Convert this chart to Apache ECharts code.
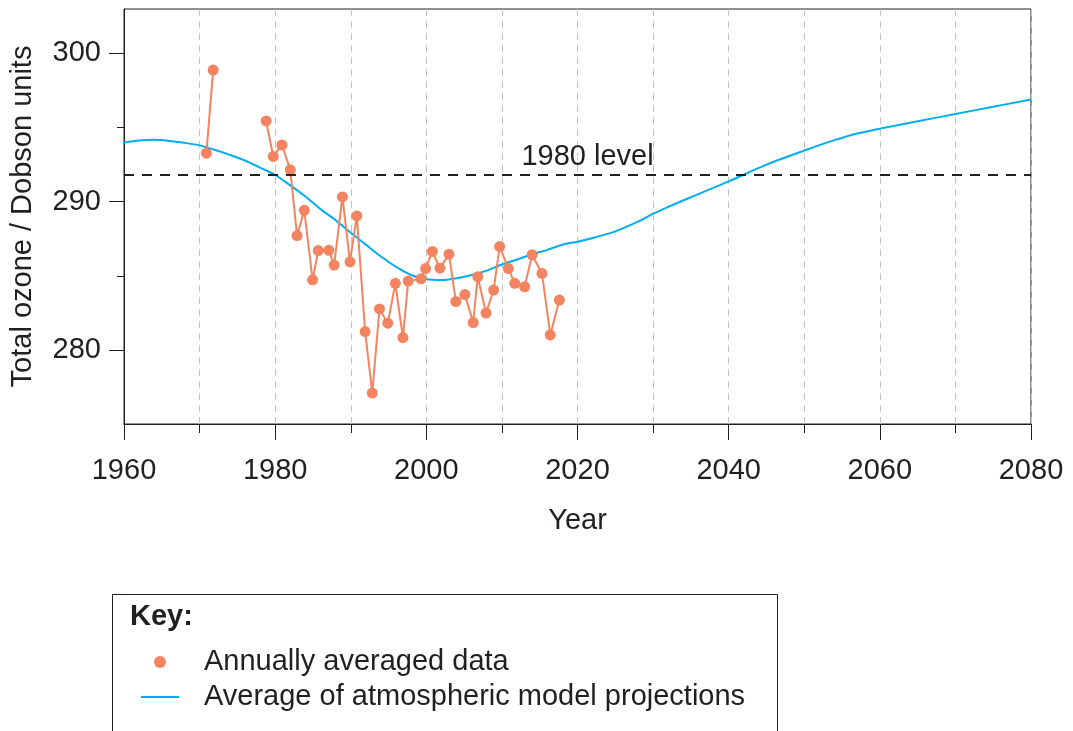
<!DOCTYPE html>
<html>
<head>
<meta charset="utf-8">
<script src="https://cdn.jsdelivr.net/npm/echarts@6/dist/echarts.min.js"></script>
<style>
  html, body { margin: 0; padding: 0; background: #fff; }
  #chart { width: 1073px; height: 731px; }
</style>
</head>
<body>
<div id="chart"></div>
<script>
// annual mean total ozone
const ozoneYears = [1970.9, 1971.8, 1978.8, 1979.75, 1980.9, 1982.0, 1982.9, 1983.85, 1984.95, 1985.7,
  1987.1, 1987.8, 1988.9, 1989.9, 1990.8, 1991.9, 1992.85, 1993.8, 1994.9, 1995.9,
  1996.9, 1997.6, 1999.3, 1999.9, 2000.8, 2001.8, 2003.0, 2003.9, 2005.1, 2006.2,
  2006.8, 2007.9, 2008.9, 2009.7, 2010.85, 2011.7, 2013.0, 2014.0, 2015.3, 2016.4, 2017.6];
const ozoneValues = [293.27, 298.88, 295.45, 293.05, 293.83, 292.15, 287.71, 289.42, 284.73, 286.70,
  286.72, 285.72, 290.32, 285.94, 289.04, 281.24, 277.09, 282.76, 281.80, 284.49,
  280.83, 284.64, 284.80, 285.49, 286.64, 285.51, 286.46, 283.26, 283.73, 281.84,
  284.94, 282.49, 284.04, 286.97, 285.49, 284.49, 284.26, 286.42, 285.16, 281.01, 283.36];

// model projection mean
const modelYears = [1960, 1962, 1964, 1966, 1968, 1970, 1972, 1974, 1976, 1978,
  1980, 1982, 1984, 1986, 1988, 1990, 1992, 1994, 1996, 1998,
  2000, 2002, 2004, 2006, 2008, 2010, 2012, 2014, 2016, 2018,
  2020, 2022, 2025, 2028, 2030, 2032, 2035, 2040, 2045, 2050,
  2054, 2057, 2060, 2065, 2070, 2075, 2080];
const modelValues = [293.99, 294.12, 294.17, 294.1, 293.97, 293.8, 293.5, 293.16, 292.78, 292.3,
  291.8, 291.1, 290.35, 289.5, 288.75, 287.9, 287.1, 286.3, 285.6, 285.05,
  284.76, 284.71, 284.84, 285.05, 285.35, 285.76, 286.1, 286.45, 286.75, 287.1,
  287.3, 287.55, 288.0, 288.65, 289.19, 289.65, 290.3, 291.37, 292.5, 293.45,
  294.15, 294.6, 294.93, 295.42, 295.92, 296.4, 296.9];

const level1980 = 291.8;
const majorYTicks = [280, 290, 300];
const minorYTicks = [285, 295];

const textColor = '#231f20';
const font = 'Liberation Sans, Arial, sans-serif';
const fs = 29;

// break the line where years are missing
const ozoneData = [];
ozoneYears.forEach((y, i) => {
  if (i > 0 && y - ozoneYears[i - 1] > 3) ozoneData.push([y - 1, null]);
  ozoneData.push([y, ozoneValues[i]]);
});
const modelData = modelYears.map((y, i) => [y, modelValues[i]]);

const chart = echarts.init(document.getElementById('chart'));
const option = {
  animation: false,
  textStyle: { fontFamily: font, color: textColor },
  grid: {
    left: 124, right: 42, top: 9, bottom: 307,
    show: true, borderColor: textColor, borderWidth: 1, backgroundColor: 'transparent'
  },
  xAxis: {
    type: 'value',
    min: 1960, max: 2080, interval: 20,
    name: 'Year', nameLocation: 'middle', nameGap: 82,
    nameTextStyle: { fontSize: fs, color: textColor, fontFamily: font },
    axisLine: { lineStyle: { color: textColor, width: 1 } },
    axisTick: { length: 16, lineStyle: { color: textColor } },
    minorTick: { show: true, splitNumber: 2, length: 9, lineStyle: { color: textColor } },
    axisLabel: { fontSize: fs, color: textColor, margin: 32, fontFamily: font, formatter: v => String(v) },
    splitLine: { show: true, lineStyle: { color: '#c4c4c4', type: [7, 5], width: 1 } },
    minorSplitLine: { show: true, lineStyle: { color: '#c4c4c4', type: [7, 5], width: 1 } }
  },
  yAxis: [
    {
      type: 'value',
      min: 275, max: 303,
      name: 'Total ozone / Dobson units', nameLocation: 'middle', nameGap: 87,
      nameTextStyle: { fontSize: fs, color: textColor, fontFamily: font },
      axisLine: { show: true, lineStyle: { color: textColor, width: 1 } },
      axisTick: { show: true, length: 15, customValues: majorYTicks, lineStyle: { color: textColor } },
      axisLabel: { fontSize: fs, color: textColor, margin: 23, customValues: majorYTicks, fontFamily: font },
      splitLine: { show: false }
    },
    {
      type: 'value',
      min: 275, max: 303,
      position: 'left',
      axisLine: { show: false },
      axisTick: { show: true, length: 7, customValues: minorYTicks, lineStyle: { color: textColor } },
      axisLabel: { show: false },
      splitLine: { show: false }
    }
  ],
  legend: {
    left: 136, top: 640, orient: 'vertical',
    itemWidth: 38, itemHeight: 12, itemGap: 1,
    textStyle: { fontSize: fs, color: textColor, fontFamily: font, lineHeight: 34, padding: [0, 0, 0, 20] },
    data: [
      { name: 'Annually averaged data', icon: 'circle' },
      { name: 'Average of atmospheric model projections', icon: 'path://M0,0 L38,0 L38,2 L0,2 Z' }
    ]
  },
  graphic: [
    {
      type: 'rect', left: 110, top: 592,
      shape: { width: 665, height: 160 },
      style: { fill: 'none', stroke: textColor, lineWidth: 1 }
    },
    {
      type: 'text', left: 130, top: 602,
      style: { text: 'Key:', font: 'bold ' + fs + 'px ' + font, fill: textColor }
    }
  ],
  series: [
    {
      name: 'Average of atmospheric model projections',
      type: 'line',
      data: modelData,
      symbol: 'none',
      smooth: 0.3,
      color: '#00aeef',
      lineStyle: { color: '#00aeef', width: 2 },
      markLine: {
        silent: true,
        symbol: 'none',
        lineStyle: { color: textColor, type: [10, 8], width: 2 },
        label: {
          show: true, position: 'insideMiddleTop', formatter: '1980 level',
          fontSize: fs, color: textColor, fontFamily: font, distance: 4, padding: [0, 0, 0, 20]
        },
        data: [{ yAxis: level1980 }]
      }
    },
    {
      name: 'Annually averaged data',
      type: 'line',
      data: ozoneData,
      connectNulls: false,
      symbol: 'circle',
      symbolSize: 11,
      color: '#f4845f',
      itemStyle: { color: '#f4845f' },
      lineStyle: { color: '#f4845f', width: 2 }
    }
  ]
};
chart.setOption(option);
</script>
</body>
</html>
